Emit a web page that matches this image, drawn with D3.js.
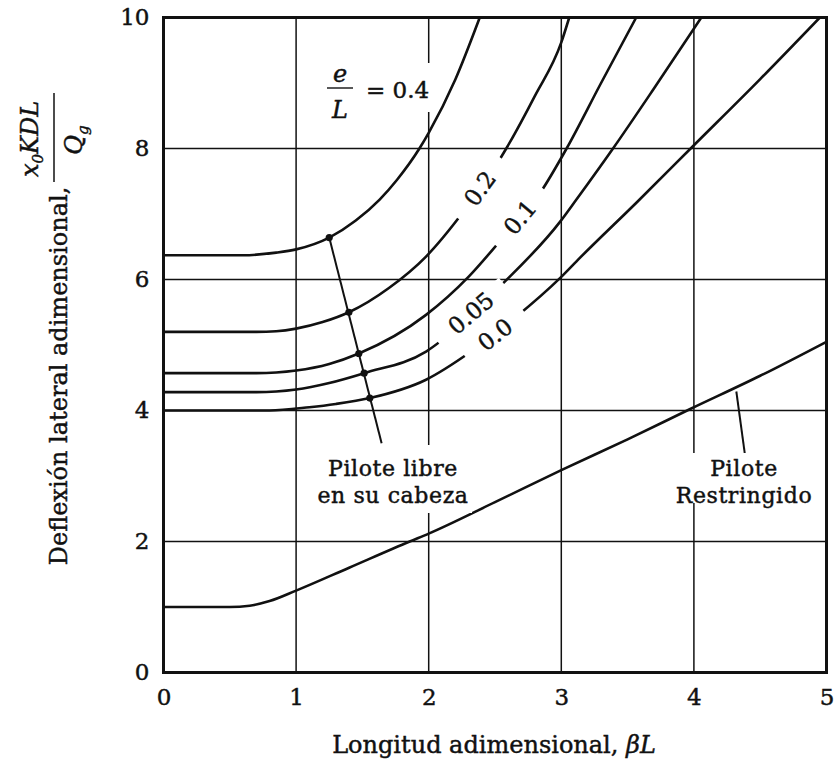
<!DOCTYPE html>
<html>
<head>
<meta charset="utf-8">
<script src="https://cdn.jsdelivr.net/npm/d3@7"></script>
<style>
  html, body { margin: 0; padding: 0; background: #fff; }
  svg { display: block; }
  text { font-family: "DejaVu Serif", "Liberation Serif", serif; fill: #111; stroke: #111; stroke-width: 0.45px; }
</style>
</head>
<body>
<svg id="chart" width="835" height="760"></svg>
<script>
// ---------------- DATA ----------------
const xTicks = [0, 1, 2, 3, 4, 5];
const yTicks = [0, 2, 4, 6, 8, 10];

// Free-head pile curves (e/L values), points [βL, deflection]
const curve04 = [[0,6.37],[0.6,6.37],[0.85,6.41],[1.0,6.46],[1.25,6.64],[1.45,6.9],[1.63,7.22],[1.76,7.52],[1.93,8.0],[2.0,8.24],[2.2,9.05],[2.385,10]];
const curve02 = [[0,5.2],[0.7,5.2],[0.85,5.21],[1.0,5.25],[1.2,5.35],[1.398,5.5],[1.7,5.87],[1.98,6.35],[2.26,7.03],[2.51,7.75],[2.585,8.0],[2.8,8.8],[3.0,9.62],[3.06,10]];
const curve01 = [[0,4.57],[0.7,4.57],[0.85,4.58],[1.0,4.61],[1.25,4.71],[1.473,4.87],[1.98,5.46],[2.3,6.04],[2.535,6.58],[2.84,7.32],[3.04,8.0],[3.3,9.0],[3.565,10]];
const curve005 = [[0,4.28],[0.7,4.28],[0.85,4.29],[1.0,4.32],[1.25,4.42],[1.513,4.57],[1.98,4.9],[2.25,5.33],[2.51,5.84],[2.99,6.88],[3.11,7.21],[3.39,8.0],[3.7,8.92],[4.056,10]];
const curve000 = [[0,4.0],[0.8,4.0],[1.1,4.05],[1.3,4.1],[1.556,4.19],[1.98,4.47],[2.32,4.9],[2.66,5.43],[2.99,6.02],[3.14,6.33],[3.57,7.18],[4.0,8.05],[4.5,9.06],[4.95,10]];
// Restrained-head pile
const curveRestr = [[0,1.0],[0.5,1.0],[0.65,1.02],[0.8,1.09],[1.0,1.25],[1.4,1.6],[1.857,2.0],[2.0,2.12],[2.5,2.6],[3.0,3.09],[3.5,3.56],[3.98,4.03],[4.5,4.53],[5.0,5.05]];

const series = [curve04, curve02, curve01, curve005, curve000, curveRestr];

// Points where the "Pilote libre" leader crosses each free-head curve
const freeDots = [[1.25,6.64],[1.398,5.5],[1.473,4.87],[1.513,4.57],[1.556,4.19]];
const freeLeaderEnd = [1.645, 3.5];
const restrLeader = [[4.32,4.29],[4.39,3.25]];

// curve labels: text, anchor (data coords), angle in degrees
const curveLabels = [
  {t:"0.2",  x:2.385, y:7.39, a:54},
  {t:"0.1",  x:2.687, y:6.95, a:50},
  {t:"0.05", x:2.318, y:5.49, a:40},
  {t:"0.0",  x:2.50,  y:5.16, a:38}
];

// ---------------- CHART ----------------
const svg = d3.select("#chart");
const W = 835, H = 760;
const L = 163.5, R = 826.5, T = 17.5, B = 672.5;

const x = d3.scaleLinear().domain([0,5]).range([L,R]);
const y = d3.scaleLinear().domain([0,10]).range([B,T]);

svg.append("rect").attr("width",W).attr("height",H).attr("fill","#fff");

// grid
const grid = svg.append("g").attr("stroke","#111").attr("stroke-width",1.5);
grid.selectAll("line.v").data(xTicks.slice(1,-1)).join("line")
  .attr("x1",d=>x(d)).attr("x2",d=>x(d)).attr("y1",T).attr("y2",B);
grid.selectAll("line.h").data(yTicks.slice(1,-1)).join("line")
  .attr("y1",d=>y(d)).attr("y2",d=>y(d)).attr("x1",L).attr("x2",R);

// axes via d3 (ticks as text only)
const xAxis = d3.axisBottom(x).tickValues(xTicks).tickSize(0).tickPadding(16).tickFormat(d3.format("d"));
const yAxis = d3.axisLeft(y).tickValues(yTicks).tickSize(0).tickPadding(14).tickFormat(d3.format("d"));
const gx = svg.append("g").attr("transform",`translate(0,${B})`).call(xAxis);
const gy = svg.append("g").attr("transform",`translate(${L},0)`).call(yAxis);
[gx,gy].forEach(g=>{
  g.select(".domain").remove();
  g.selectAll("text").attr("font-family","DejaVu Serif").attr("font-size",23).attr("fill","#111");
});

// curves
svg.append("clipPath").attr("id","clip").append("rect")
  .attr("x",L).attr("y",T).attr("width",R-L).attr("height",B-T);
const line = d3.line().x(d=>x(d[0])).y(d=>y(d[1])).curve(d3.curveMonotoneX);
svg.append("g").attr("clip-path","url(#clip)")
  .selectAll("path").data(series).join("path")
  .attr("d",line).attr("fill","none").attr("stroke","#111").attr("stroke-width",2.6)
  .attr("stroke-linejoin","round");

// free-head leader and dots
svg.append("line")
  .attr("x1",x(freeDots[0][0])).attr("y1",y(freeDots[0][1]))
  .attr("x2",x(freeLeaderEnd[0])).attr("y2",y(freeLeaderEnd[1]))
  .attr("stroke","#111").attr("stroke-width",2);
svg.selectAll("circle.dot").data(freeDots).join("circle")
  .attr("cx",d=>x(d[0])).attr("cy",d=>y(d[1])).attr("r",3.6).attr("fill","#111");

// restrained leader
svg.append("line")
  .attr("x1",x(restrLeader[0][0])).attr("y1",y(restrLeader[0][1]))
  .attr("x2",x(restrLeader[1][0])).attr("y2",y(restrLeader[1][1]))
  .attr("stroke","#111").attr("stroke-width",2);

// curve labels with white background gaps
const cl = svg.selectAll("g.cl").data(curveLabels).join("g")
  .attr("transform",d=>`translate(${x(d.x)},${y(d.y)}) rotate(${-d.a})`);
cl.append("rect")
  .attr("x",d=>-(d.t.length*7+16)).attr("width",d=>2*(d.t.length*7+16))
  .attr("y",-9).attr("height",18).attr("fill","#fff");
cl.append("text").attr("text-anchor","middle").attr("dy","0.36em")
  .attr("font-size",23).text(d=>d.t);

// e/L = 0.4 label
const el = svg.append("g");
el.append("rect").attr("x",320).attr("y",63).attr("width",113).attr("height",49).attr("fill","#fff");
el.append("text").attr("x",340).attr("y",82).attr("text-anchor","middle").attr("font-style","italic").attr("font-size",24).text("e");
el.append("line").attr("x1",327).attr("x2",353).attr("y1",88).attr("y2",88).attr("stroke","#111").attr("stroke-width",1.4);
el.append("text").attr("x",340).attr("y",118).attr("text-anchor","middle").attr("font-style","italic").attr("font-size",24).text("L");
el.append("text").attr("x",366).attr("y",98).attr("font-size",23).text("= 0.4");

// Pilote libre label
const pl = svg.append("g");
pl.append("rect").attr("x",314).attr("y",445).attr("width",158).attr("height",68).attr("fill","#fff");
pl.append("text").attr("x",393).attr("y",476).attr("text-anchor","middle").attr("font-size",22).attr("letter-spacing",0.6).text("Pilote libre");
pl.append("text").attr("x",393).attr("y",503).attr("text-anchor","middle").attr("font-size",22).attr("letter-spacing",0.6).text("en su cabeza");

// Pilote Restringido label
const pr = svg.append("g");
pr.append("rect").attr("x",673).attr("y",453).attr("width",142).attr("height",50).attr("fill","#fff");
pr.append("text").attr("x",744).attr("y",476).attr("text-anchor","middle").attr("font-size",22).attr("letter-spacing",0.6).text("Pilote");
pr.append("text").attr("x",744).attr("y",503).attr("text-anchor","middle").attr("font-size",22).attr("letter-spacing",0.6).text("Restringido");

// frame
svg.append("rect").attr("x",L).attr("y",T).attr("width",R-L).attr("height",B-T)
  .attr("fill","none").attr("stroke","#111").attr("stroke-width",3);

// x-axis title
const xt = svg.append("text").attr("x",494).attr("y",753).attr("text-anchor","middle").attr("font-size",24);
xt.append("tspan").text("Longitud adimensional, ");
xt.append("tspan").attr("font-style","italic").text("βL");

// y-axis title
svg.append("text").attr("transform","translate(67,376) rotate(-90)").attr("text-anchor","middle")
  .attr("font-size",24).text("Deflexión lateral adimensional,");
const num = svg.append("text").attr("transform","translate(38,139) rotate(-90)").attr("text-anchor","middle")
  .attr("font-size",24).attr("font-style","italic");
num.append("tspan").text("x");
num.append("tspan").attr("font-size",15).attr("dy",5).text("0");
num.append("tspan").attr("dy",-5).text("KDL");
svg.append("line").attr("x1",54).attr("x2",54).attr("y1",93).attr("y2",182).attr("stroke","#111").attr("stroke-width",1.5);
const den = svg.append("text").attr("transform","translate(82,140) rotate(-90)").attr("text-anchor","middle")
  .attr("font-size",24).attr("font-style","italic");
den.append("tspan").text("Q");
den.append("tspan").attr("font-size",15).attr("dy",6).text("g");
</script>
</body>
</html>
